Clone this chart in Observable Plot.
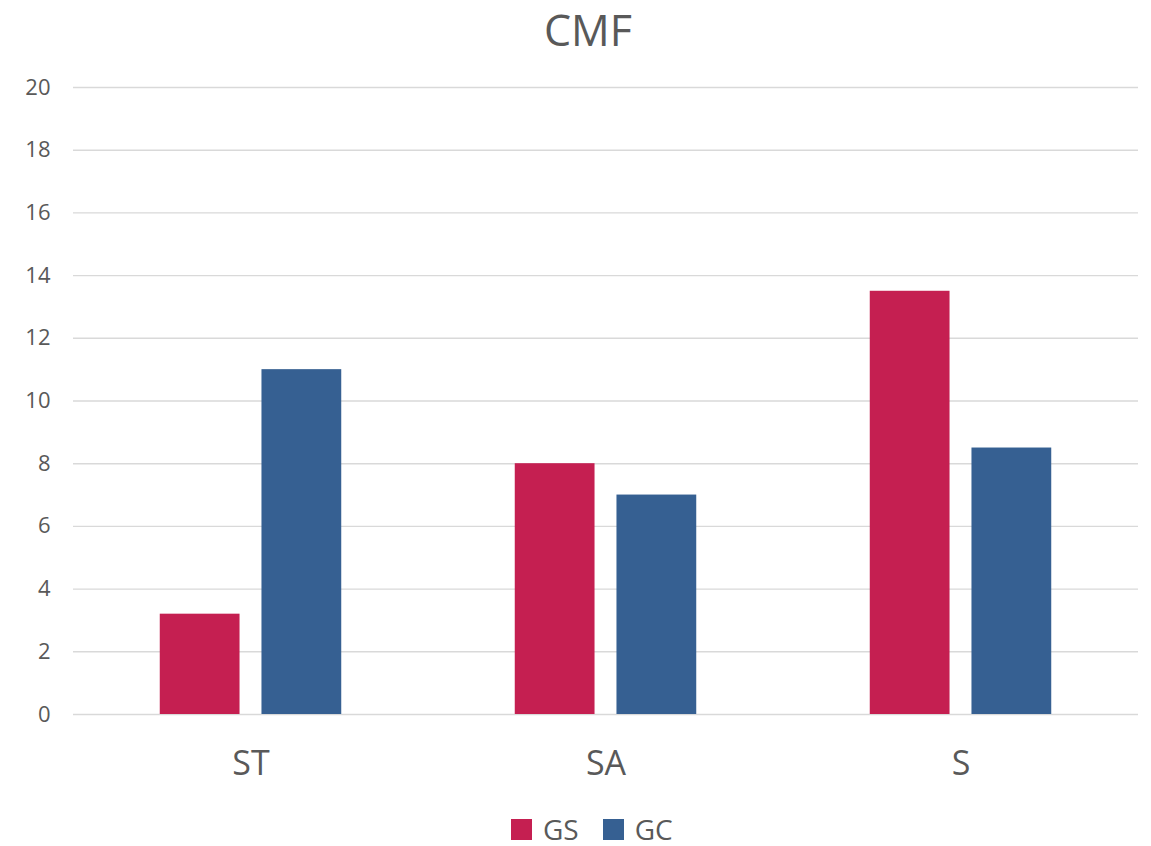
<!DOCTYPE html>
<html>
<head>
<meta charset="utf-8">
<script src="https://cdn.jsdelivr.net/npm/d3@7"></script>
<script src="https://cdn.jsdelivr.net/npm/@observablehq/plot@0.6"></script>
<style>
  html, body { margin: 0; padding: 0; background: #fff; }
  #wrap { position: relative; width: 1151px; height: 846px; font-family: "Open Sans", sans-serif; color: #595959; }
  #title { position: absolute; left: 588px; top: 0px; transform: translateX(-50%); font-size: 43px; line-height: normal; white-space: nowrap; }
  #legend { position: absolute; left: 511px; top: 810px; display: flex; align-items: center; font-size: 28px; line-height: normal; }
  .sw { width: 21px; height: 21px; margin-right: 11px; }
  .item { display: flex; align-items: center; margin-right: 24px; }
  #chart { position: absolute; left: 0; top: 0; }
</style>
</head>
<body>
<div id="wrap">
  <div id="chart"></div>
  <div id="title">CMF</div>
  <div id="legend"></div>
</div>
<script>
const categories = ["ST", "SA", "S"];
const seriesNames = ["GS", "GC"];
const seriesColors = ["#C51F51", "#366092"];
const valuesGS = [3.2, 8, 13.5];
const valuesGC = [11, 7, 8.5];
const yTicks = [0, 2, 4, 6, 8, 10, 12, 14, 16, 18, 20];

const rows = [];
categories.forEach((c, i) => {
  rows.push({category: c, series: "GS", value: valuesGS[i]});
  rows.push({category: c, series: "GC", value: valuesGC[i]});
});

const svg = Plot.plot({
  width: 1151,
  height: 846,
  marginTop: 87,
  marginBottom: 132,
  marginLeft: 72,
  marginRight: 13,
  style: {fontFamily: "Open Sans, sans-serif", fontSize: "22px", color: "#595959", background: "white", overflow: "visible"},
  facet: {data: rows, x: "category"},
  fx: {domain: categories, padding: 0, label: null, tickSize: 0, tickPadding: 36, axis: "bottom"},
  x: {domain: seriesNames, paddingInner: 0.2157, paddingOuter: 0.853, round: false, axis: null},
  y: {domain: [0, 20], ticks: yTicks, tickSize: 0, tickPadding: 23, label: null, tickFormat: d => String(d)},
  color: {domain: seriesNames, range: seriesColors},
  marks: [
    Plot.ruleY(yTicks, {stroke: "#d9d9d9", strokeWidth: 1.4}),
    Plot.barY(rows, {x: "series", y: "value", fill: "series"})
  ]
});

svg.querySelectorAll('[aria-label^="fx-axis"] text').forEach(t => { t.style.fontSize = "34px"; t.setAttribute("font-size", "34"); });
svg.querySelectorAll('[aria-label^="y-axis"] text').forEach(t => { t.setAttribute("fill", "#595959"); });
document.getElementById("chart").appendChild(svg);

const legend = document.getElementById("legend");
seriesNames.forEach((s, i) => {
  const item = document.createElement("div");
  item.className = "item";
  const sw = document.createElement("div");
  sw.className = "sw";
  sw.style.background = seriesColors[i];
  const lab = document.createElement("span");
  lab.textContent = s;
  item.appendChild(sw);
  item.appendChild(lab);
  legend.appendChild(item);
});
</script>
</body>
</html>
